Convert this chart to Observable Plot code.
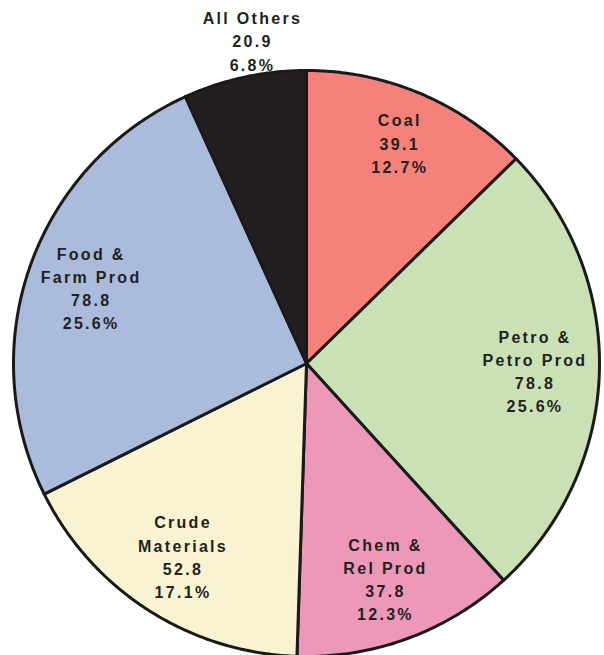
<!DOCTYPE html>
<html>
<head>
<meta charset="utf-8">
<script src="https://cdn.jsdelivr.net/npm/d3@7"></script>
<script src="https://cdn.jsdelivr.net/npm/@observablehq/plot@0.6"></script>
<style>
  html, body { margin: 0; padding: 0; background: #fff; }
  #chart svg { display: block; }
</style>
</head>
<body>
<div id="chart"></div>
<script>
const categories = ["Coal", "Petro &\nPetro Prod", "Chem &\nRel Prod", "Crude\nMaterials", "Food &\nFarm Prod", "All Others"];
const values = [39.1, 78.8, 37.8, 52.8, 78.8, 20.9];
const percents = ["12.7%", "25.6%", "12.3%", "17.1%", "25.6%", "6.8%"];
const colors = ["#F4827A", "#C9E1B5", "#EE98B9", "#F9F3D2", "#AABBDB", "#231F20"];

const W = 604, H = 655;
const R = 293;
const total = d3.sum(values);

// label placement (fraction of radius) per slice, in code
const labelRadius = [0.82, 0.78, 0.78, 0.78, 0.78, 1.13];

const slicePts = [];
const labels = [];
let acc = 0;
values.forEach((v, i) => {
  const a0 = acc / total * 2 * Math.PI;
  acc += v;
  const a1 = acc / total * 2 * Math.PI;
  const cat = categories[i];
  slicePts.push({cat, x: 0, y: 0});
  const n = Math.max(2, Math.ceil((a1 - a0) / (Math.PI / 360)));
  for (let k = 0; k <= n; k++) {
    const a = a0 + (a1 - a0) * k / n;
    slicePts.push({cat, x: R * Math.sin(a), y: -R * Math.cos(a)});
  }
  const am = (a0 + a1) / 2;
  const outside = i === values.length - 1;
  const lr = labelRadius[i] * R;
  labels.push({
    x: lr * Math.sin(am) + (outside ? 16 : 0),
    y: -lr * Math.cos(am),
    text: `${cat}\n${v.toFixed(1)}\n${percents[i]}`
  });
});

const plot = Plot.plot({
  width: W,
  height: H,
  margin: 0,
  x: {domain: [-306, W - 306], range: [0, W], axis: null},
  y: {domain: [-363, H - 363], range: [0, H], axis: null},
  color: {domain: categories, range: colors},
  style: {fontFamily: "'Liberation Sans', Arial, sans-serif", letterSpacing: "2.3px", background: "#fff"},
  marks: [
    Plot.line(slicePts, {
      x: "x", y: "y", z: "cat", fill: "cat",
      stroke: "#1a1a1a", strokeWidth: 3, strokeLinejoin: "round",
      curve: "linear-closed"
    }),
    Plot.text(labels, {
      x: "x", y: "y", text: "text",
      fontSize: 16, fontWeight: "bold", fill: "#231F20",
      lineHeight: 1.45, textAnchor: "middle"
    })
  ]
});
document.getElementById("chart").appendChild(plot);
</script>
</body>
</html>
